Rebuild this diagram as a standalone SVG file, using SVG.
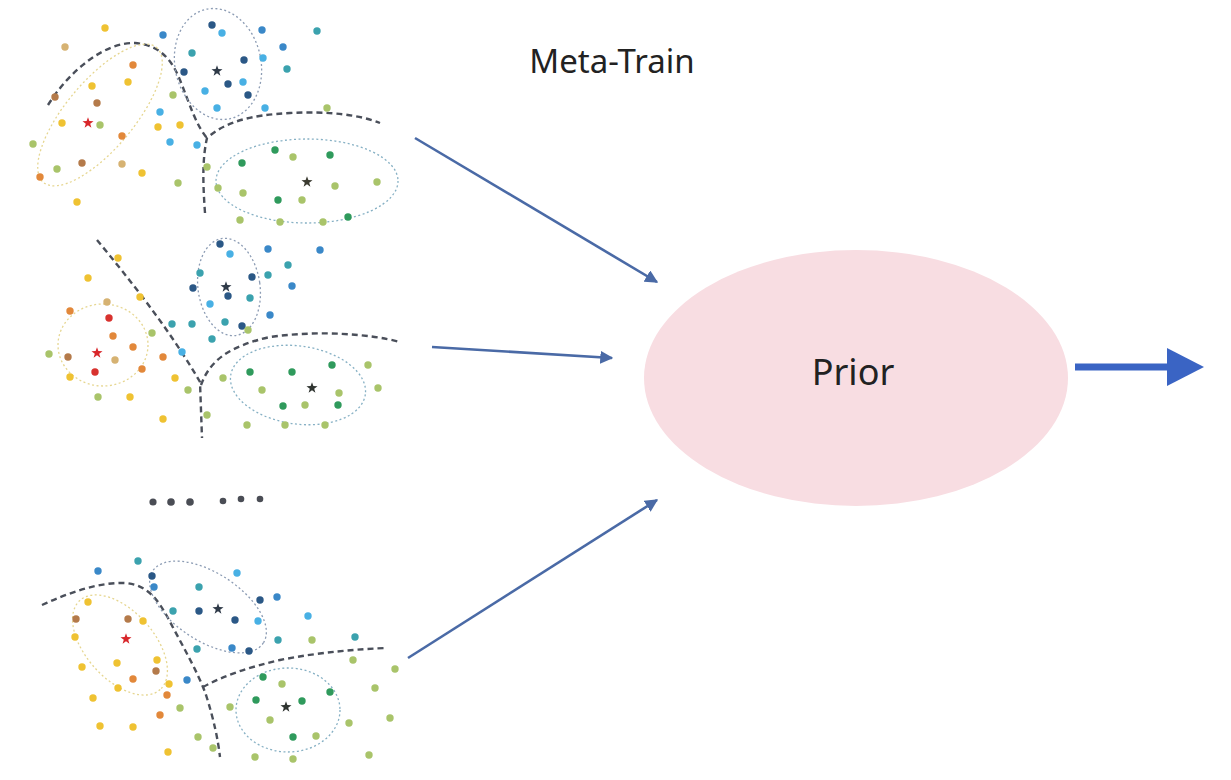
<svg xmlns="http://www.w3.org/2000/svg" xmlns:xlink="http://www.w3.org/1999/xlink" width="1231" height="780" viewBox="0 0 1231 780">
  <style>
    .pts circle { r: 3.7px; }
    .y { fill: #efc232; }
    .o { fill: #e2883a; }
    .r { fill: #d8322e; }
    .br { fill: #b47a4a; }
    .tn { fill: #d6b272; }
    .yg { fill: #a9c46a; }
    .g { fill: #2f9a5c; }
    .t { fill: #3ba2ae; }
    .lb { fill: #48b0e4; }
    .b { fill: #3a88c8; }
    .db { fill: #2b5886; }
    .boundary { fill: none; stroke: #4a4f5a; stroke-width: 2.4; stroke-dasharray: 6 4; }
    .ring { fill: none; stroke-width: 1.3; stroke-dasharray: 2 2.5; }
    .ring-y { stroke: #e6d690; }
    .ring-b { stroke: #8c9cb4; }
    .ring-g { stroke: #86b0c4; }
    .link { stroke: #4a6aa6; stroke-width: 2.6; fill: none; marker-end: url(#head); }
    .label { font-family: "Noto Sans", "Liberation Sans", sans-serif; fill: #222; text-anchor: middle; }
  </style>
  <defs>
    <path id="star" d="M0,-5.8 L1.36,-1.88 L5.52,-1.79 L2.2,0.72 L3.41,4.69 L0,2.32 L-3.41,4.69 L-2.2,0.72 L-5.52,-1.79 L-1.36,-1.88 Z"/>
    <marker id="head" viewBox="0 0 10 10" refX="9" refY="5" markerWidth="5" markerHeight="5" orient="auto" markerUnits="strokeWidth">
      <path d="M0,0 L10,5 L0,10 Z" fill="#4a6aa6"/>
    </marker>
  </defs>
  <rect width="1231" height="780" fill="#ffffff"/>

  <!-- task 1 scatter -->
  <g id="task1">
    <path class="boundary" d="M48,105 C70,70 105,42 135,43 C160,45 172,60 180,80 C190,105 196,125 207,138"/>
    <path class="boundary" d="M205,213 C203,185 202,160 207,138 C225,122 250,115 290,113 C330,111 360,115 380,123"/>
    <ellipse class="ring ring-y" cx="100" cy="115" rx="88" ry="34" transform="rotate(-50 100 115)"/>
    <ellipse class="ring ring-b" cx="218" cy="64" rx="43" ry="56" transform="rotate(-12 218 64)"/>
    <ellipse class="ring ring-g" cx="307" cy="181" rx="91" ry="42"/>
    <g class="pts">
      <circle class="y" cx="105" cy="28"/><circle class="tn" cx="65" cy="47"/><circle class="o" cx="133" cy="65"/>
      <circle class="y" cx="128" cy="82"/><circle class="y" cx="92" cy="86"/><circle class="br" cx="55" cy="97"/>
      <circle class="br" cx="97" cy="103"/><circle class="y" cx="62" cy="123"/><circle class="yg" cx="100" cy="125"/>
      <circle class="o" cx="122" cy="136"/><circle class="yg" cx="33" cy="144"/><circle class="br" cx="82" cy="163"/>
      <circle class="yg" cx="57" cy="169"/><circle class="o" cx="40" cy="177"/><circle class="tn" cx="122" cy="164"/>
      <circle class="y" cx="142" cy="173"/><circle class="y" cx="77" cy="202"/><circle class="y" cx="158" cy="127"/>
      <circle class="y" cx="180" cy="125"/><circle class="yg" cx="173" cy="95"/><circle class="yg" cx="178" cy="183"/>
      <circle class="db" cx="212" cy="25"/><circle class="lb" cx="222" cy="33"/><circle class="b" cx="163" cy="35"/>
      <circle class="b" cx="262" cy="30"/><circle class="t" cx="317" cy="31"/><circle class="b" cx="283" cy="47"/>
      <circle class="t" cx="192" cy="53"/><circle class="lb" cx="263" cy="58"/><circle class="db" cx="244" cy="60"/>
      <circle class="db" cx="184" cy="72"/><circle class="t" cx="287" cy="69"/><circle class="db" cx="228" cy="84"/>
      <circle class="lb" cx="243" cy="82"/><circle class="lb" cx="205" cy="91"/><circle class="db" cx="248" cy="95"/>
      <circle class="lb" cx="160" cy="112"/><circle class="lb" cx="217" cy="108"/><circle class="lb" cx="265" cy="108"/>
      <circle class="lb" cx="170" cy="142"/><circle class="lb" cx="197" cy="145"/>
      <circle class="yg" cx="327" cy="108"/><circle class="g" cx="275" cy="150"/><circle class="g" cx="330" cy="155"/>
      <circle class="yg" cx="293" cy="157"/><circle class="g" cx="242" cy="163"/><circle class="yg" cx="377" cy="182"/>
      <circle class="yg" cx="335" cy="186"/><circle class="yg" cx="207" cy="167"/><circle class="yg" cx="218" cy="188"/>
      <circle class="yg" cx="243" cy="193"/><circle class="g" cx="278" cy="200"/><circle class="yg" cx="302" cy="200"/>
      <circle class="g" cx="348" cy="217"/><circle class="yg" cx="323" cy="222"/><circle class="yg" cx="280" cy="222"/>
      <circle class="yg" cx="240" cy="220"/>
    </g>
    <use href="#star" x="88" y="123" fill="#d8262a"/>
    <use href="#star" x="217" y="71" fill="#2f3a48"/>
    <use href="#star" x="307" y="182" fill="#3a3a30"/>
  </g>

  <!-- task 2 scatter -->
  <g id="task2">
    <path class="boundary" d="M97,240 C130,280 170,330 200,382 L202,438"/>
    <path class="boundary" d="M201,385 C210,360 230,346 270,337 C320,330 370,334 400,342"/>
    <ellipse class="ring ring-y" cx="103" cy="345" rx="45" ry="41"/>
    <ellipse class="ring ring-b" cx="229" cy="287" rx="31" ry="49" transform="rotate(-8 229 287)"/>
    <ellipse class="ring ring-g" cx="298" cy="385" rx="68" ry="39" transform="rotate(8 298 385)"/>
    <g class="pts">
      <circle class="y" cx="118" cy="258"/><circle class="y" cx="88" cy="278"/><circle class="y" cx="140" cy="297"/>
      <circle class="tn" cx="107" cy="302"/><circle class="o" cx="70" cy="311"/><circle class="r" cx="109" cy="318"/>
      <circle class="o" cx="113" cy="336"/><circle class="yg" cx="152" cy="333"/><circle class="o" cx="133" cy="347"/>
      <circle class="yg" cx="49" cy="354"/><circle class="br" cx="68" cy="357"/><circle class="tn" cx="115" cy="360"/>
      <circle class="o" cx="163" cy="357"/><circle class="r" cx="95" cy="372"/><circle class="o" cx="142" cy="369"/>
      <circle class="y" cx="70" cy="377"/><circle class="y" cx="175" cy="378"/><circle class="yg" cx="98" cy="397"/>
      <circle class="y" cx="130" cy="397"/><circle class="y" cx="163" cy="419"/><circle class="yg" cx="188" cy="390"/>
      <circle class="db" cx="220" cy="244"/><circle class="lb" cx="230" cy="254"/><circle class="b" cx="268" cy="249"/>
      <circle class="b" cx="320" cy="250"/><circle class="t" cx="288" cy="265"/><circle class="t" cx="200" cy="273"/>
      <circle class="db" cx="252" cy="277"/><circle class="t" cx="268" cy="275"/><circle class="db" cx="193" cy="288"/>
      <circle class="db" cx="228" cy="296"/><circle class="b" cx="292" cy="286"/><circle class="t" cx="250" cy="298"/>
      <circle class="lb" cx="210" cy="304"/><circle class="b" cx="270" cy="315"/><circle class="t" cx="172" cy="324"/>
      <circle class="t" cx="192" cy="324"/><circle class="t" cx="225" cy="322"/><circle class="db" cx="242" cy="326"/>
      <circle class="yg" cx="248" cy="330"/><circle class="t" cx="212" cy="339"/><circle class="lb" cx="182" cy="352"/>
      <circle class="g" cx="250" cy="372"/><circle class="g" cx="292" cy="372"/><circle class="g" cx="332" cy="365"/>
      <circle class="yg" cx="368" cy="365"/><circle class="yg" cx="223" cy="378"/><circle class="yg" cx="262" cy="390"/>
      <circle class="yg" cx="378" cy="388"/><circle class="yg" cx="339" cy="393"/><circle class="g" cx="283" cy="406"/>
      <circle class="yg" cx="305" cy="405"/><circle class="g" cx="338" cy="405"/><circle class="yg" cx="207" cy="415"/>
      <circle class="yg" cx="247" cy="425"/><circle class="yg" cx="285" cy="425"/><circle class="yg" cx="325" cy="425"/>
    </g>
    <use href="#star" x="97" y="353" fill="#d8262a"/>
    <use href="#star" x="226" y="287" fill="#2f3a48"/>
    <use href="#star" x="312" y="388" fill="#2f3430"/>
  </g>

  <!-- more tasks -->
  <g id="ellipsis" fill="#4a4d55">
    <circle cx="153" cy="502" r="3.6"/><circle cx="171" cy="502" r="3.8"/><circle cx="190" cy="502" r="3.8"/>
    <circle cx="223" cy="501" r="3.3"/><circle cx="241" cy="499" r="3.3"/><circle cx="260" cy="499" r="3.3"/>
  </g>

  <!-- task N scatter -->
  <g id="taskN">
    <path class="boundary" d="M42,605 C70,592 100,582 125,583 C148,585 158,600 168,618 C182,645 198,672 206,695 C214,720 218,740 220,757"/>
    <path class="boundary" d="M203,687 C225,675 250,667 280,660 C320,652 360,649 387,648"/>
    <ellipse class="ring ring-y" cx="120" cy="645" rx="60" ry="34" transform="rotate(48 120 645)"/>
    <ellipse class="ring ring-b" cx="208" cy="607" rx="66" ry="34" transform="rotate(33 208 607)"/>
    <ellipse class="ring ring-g" cx="288" cy="710" rx="52" ry="42"/>
    <g class="pts">
      <circle class="t" cx="138" cy="561"/><circle class="b" cx="98" cy="571"/><circle class="db" cx="152" cy="576"/>
      <circle class="b" cx="154" cy="587"/><circle class="lb" cx="237" cy="573"/><circle class="t" cx="199" cy="587"/>
      <circle class="db" cx="260" cy="600"/><circle class="b" cx="277" cy="597"/><circle class="db" cx="199" cy="611"/>
      <circle class="t" cx="173" cy="611"/><circle class="db" cx="235" cy="620"/><circle class="lb" cx="258" cy="621"/>
      <circle class="lb" cx="308" cy="616"/><circle class="t" cx="278" cy="640"/><circle class="t" cx="355" cy="637"/>
      <circle class="t" cx="197" cy="649"/><circle class="b" cx="232" cy="648"/><circle class="db" cx="249" cy="651"/>
      <circle class="b" cx="187" cy="680"/>
      <circle class="y" cx="88" cy="602"/><circle class="br" cx="76" cy="619"/><circle class="br" cx="128" cy="619"/>
      <circle class="y" cx="143" cy="621"/><circle class="y" cx="75" cy="637"/><circle class="y" cx="82" cy="667"/>
      <circle class="y" cx="117" cy="663"/><circle class="y" cx="157" cy="660"/><circle class="br" cx="156" cy="671"/>
      <circle class="o" cx="133" cy="679"/><circle class="y" cx="118" cy="688"/><circle class="y" cx="169" cy="684"/>
      <circle class="o" cx="167" cy="695"/><circle class="y" cx="93" cy="698"/><circle class="o" cx="160" cy="715"/>
      <circle class="yg" cx="180" cy="708"/><circle class="y" cx="100" cy="726"/><circle class="y" cx="133" cy="727"/>
      <circle class="y" cx="168" cy="752"/><circle class="yg" cx="198" cy="737"/><circle class="yg" cx="213" cy="748"/>
      <circle class="yg" cx="312" cy="640"/><circle class="yg" cx="353" cy="660"/><circle class="yg" cx="395" cy="669"/>
      <circle class="g" cx="263" cy="677"/><circle class="yg" cx="282" cy="684"/><circle class="g" cx="330" cy="692"/>
      <circle class="yg" cx="375" cy="688"/><circle class="yg" cx="230" cy="707"/><circle class="g" cx="256" cy="700"/>
      <circle class="g" cx="302" cy="701"/><circle class="yg" cx="270" cy="720"/><circle class="yg" cx="349" cy="723"/>
      <circle class="yg" cx="390" cy="718"/><circle class="g" cx="293" cy="737"/><circle class="yg" cx="316" cy="736"/>
      <circle class="yg" cx="255" cy="757"/><circle class="yg" cx="293" cy="759"/><circle class="yg" cx="369" cy="755"/>
    </g>
    <use href="#star" x="126" y="639" fill="#d8262a"/>
    <use href="#star" x="218" y="609" fill="#2f3a48"/>
    <use href="#star" x="286" y="707" fill="#2f3430"/>
  </g>

  <!-- connectors -->
  <g id="connectors">
    <line class="link" x1="415" y1="138" x2="657" y2="282"/>
    <line class="link" x1="432" y1="347" x2="612" y2="358"/>
    <line class="link" x1="408" y1="658" x2="657" y2="500"/>
    <line x1="1075" y1="367" x2="1170" y2="367" stroke="#3a64c4" stroke-width="7"/>
    <polygon points="1167,348 1204,367 1167,386" fill="#3a64c4"/>
  </g>

  <g id="prior">
    <ellipse cx="856" cy="378" rx="212" ry="128" fill="#f8dde2"/>
    <text class="label" x="853" y="385" font-size="36">Prior</text>
  </g>

  <g id="title">
    <text class="label" x="612" y="73" font-size="33">Meta-Train</text>
  </g>
</svg>
